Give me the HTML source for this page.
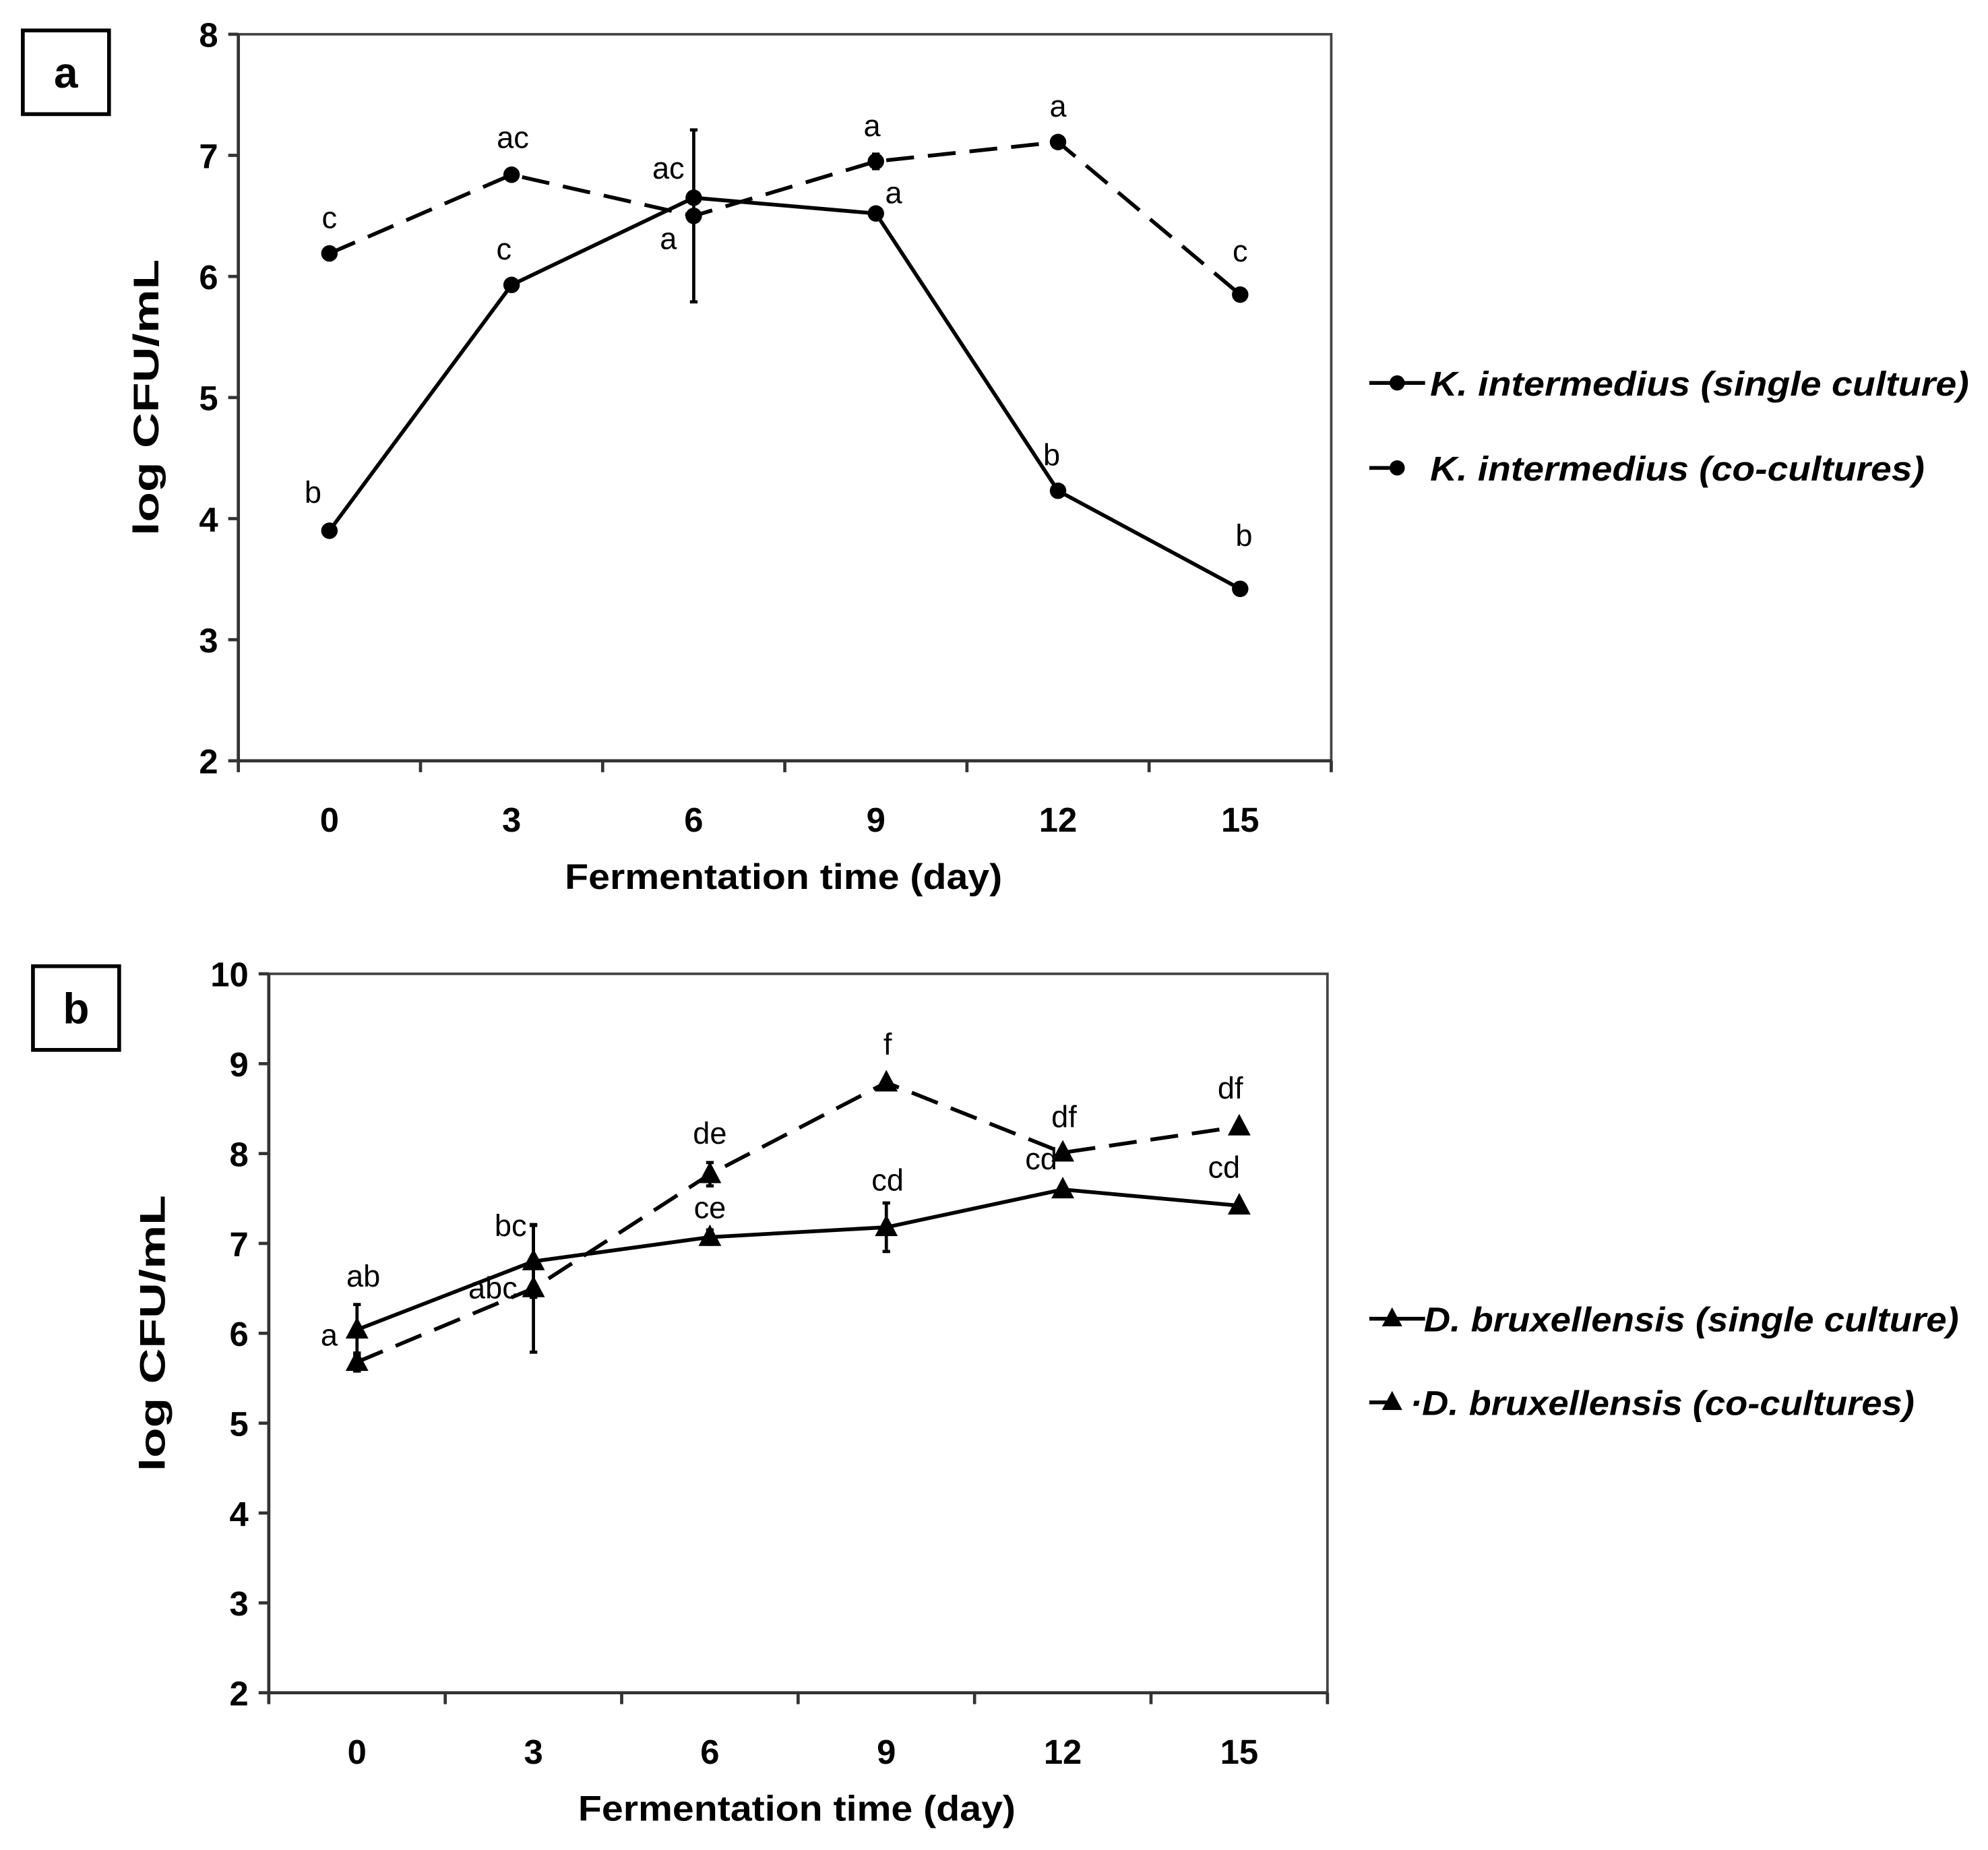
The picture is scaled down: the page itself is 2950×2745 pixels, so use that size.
<!DOCTYPE html>
<html><head><meta charset="utf-8"><style>
html,body{margin:0;padding:0;background:#fff;}
svg{display:block;}
text{font-family:"Liberation Sans",sans-serif;fill:#000;}
</style></head><body>
<svg id="fig" width="2950" height="2745" viewBox="0 0 1568 1459"></svg>
<script>
const days = ["0","3","6","9","12","15"];
const aSingle = [3.9, 5.93, 6.65, 6.52, 4.23, 3.42];
const aCo = [6.19, 6.84, 6.5, 6.95, 7.11, 5.85];
const aSingleErr = [0, 0, 0, 0, 0, 0];
const aCoErr = [0, 0, 0.71, 0.06, 0, 0];
const aSingleLbl = ["b","c","ac","a","b","b"];
const aCoLbl = ["c","ac","a","a","a","c"];
const aYTicks = [2,3,4,5,6,7,8];

const bSingle = [6.04, 6.8, 7.07, 7.18, 7.6, 7.42];
const bCo = [5.68, 6.5, 7.77, 8.79, 8.01, 8.3];
const bSingleErr = [0.28, 0.4, 0.08, 0.27, 0.03, 0];
const bCoErr = [0.1, 0.71, 0.13, 0.03, 0, 0];
const bSingleLbl = ["ab","bc","ce","cd","cd","cd"];
const bCoLbl = ["a","abc","de","f","df","df"];
const bYTicks = [2,3,4,5,6,7,8,9,10];

const NS="http://www.w3.org/2000/svg";
const svg=document.getElementById('fig');
function mk(tag,attrs,parent,txt){const e=document.createElementNS(NS,tag);for(const k in attrs)e.setAttribute(k,attrs[k]);if(txt!==undefined)e.textContent=txt;(parent||svg).appendChild(e);return e;}

function panel(cfg){
  const g=mk('g',{});
  
  
  const {L,R,T,B,ymin,ymax}=cfg;
  const n=days.length, cw=(R-L)/n;
  const xs=i=>L+cw*(i+0.5);
  const ys=v=>B-(v-ymin)/(ymax-ymin)*(B-T);
  const fr=mk('rect',{x:L,y:T,width:R-L,height:B-T,fill:'none',stroke:'#444','stroke-width':2},g);
  
  
  mk('line',{x1:L,y1:T,x2:L,y2:B,stroke:'#333','stroke-width':2.5},g);
  mk('line',{x1:L,y1:B,x2:R,y2:B,stroke:'#333','stroke-width':2.5},g);
  cfg.yticks.forEach(v=>{
    mk('line',{x1:L-8,y1:ys(v),x2:L,y2:ys(v),stroke:'#333','stroke-width':2.5},g);
    const t=mk('text',{x:L-16,y:ys(v)+10,'text-anchor':'end','font-size':27,'font-weight':'bold'},g,String(v));
    
    
  });
  for(let i=0;i<=n;i++){mk('line',{x1:L+cw*i,y1:B,x2:L+cw*i,y2:B+9,stroke:'#333','stroke-width':2.5},g);}
  days.forEach((d,i)=>{
    const t=mk('text',{x:xs(i),y:B+56,'text-anchor':'middle','font-size':27,'font-weight':'bold'},g,d);
    
    
  });
  const xt=mk('text',{x:(L+R)/2+cfg.xtOff,y:B+101,'text-anchor':'middle','font-size':28,'font-weight':'bold',textLength:345,lengthAdjust:'spacingAndGlyphs'},g,'Fermentation time (day)');
  
  
  const yt=mk('text',{x:0,y:0,'text-anchor':'middle','font-size':28,'font-weight':'bold',textLength:218,lengthAdjust:'spacingAndGlyphs',transform:`translate(${cfg.ytX},${(T+B)/2}) rotate(-90)`},g,'log CFU/mL');
  
  
  cfg.series.forEach(s=>{
    const sg=mk('g',{},g);
    
    
    s.err.forEach((e,i)=>{if(e>0){
      const x=xs(i);
      mk('line',{x1:x,y1:ys(s.vals[i]-e),x2:x,y2:ys(s.vals[i]+e),stroke:'#000','stroke-width':2.5},sg);
      mk('line',{x1:x-3,y1:ys(s.vals[i]-e),x2:x+3,y2:ys(s.vals[i]-e),stroke:'#000','stroke-width':2.5},sg);
      mk('line',{x1:x-3,y1:ys(s.vals[i]+e),x2:x+3,y2:ys(s.vals[i]+e),stroke:'#000','stroke-width':2.5},sg);
    }});
    const pts=s.vals.map((v,i)=>xs(i)+','+ys(v)).join(' ');
    const pl=mk('polyline',{points:pts,fill:'none',stroke:'#000','stroke-width':3,'stroke-dasharray':s.dash?'22,11':'none'},sg);
    
    
    s.vals.forEach((v,i)=>{
      const x=xs(i),y=ys(v);
      let m;
      if(cfg.marker==='circle'){m=mk('circle',{cx:x,cy:y,r:6.5,fill:'#000'},sg);}
      else{m=mk('polygon',{points:`${x},${y-10} ${x+9},${y+7} ${x-9},${y+7}`,fill:'#000'},sg);}
      
      
      const o=s.lblOff[i];
      const t=mk('text',{x:x+o[0],y:y+o[1],'text-anchor':'middle','font-size':24},sg,s.lbls[i]);
      
      
    });
  });
  const pb=mk('rect',{x:cfg.box[0],y:cfg.box[1],width:68,height:66,fill:'#fff',stroke:'#000','stroke-width':3},g);
  
  
  const pt=mk('text',{x:cfg.box[0]+34,y:cfg.box[1]+45,'text-anchor':'middle','font-size':34,'font-weight':'bold'},g,cfg.label);
  
  
  cfg.legend.forEach((le,k)=>{
    const lg=mk('g',{},g);
    
    
    const y=le.y;
    if(le.dash){mk('line',{x1:1080,y1:y,x2:1096,y2:y,stroke:'#000','stroke-width':3},lg);}
    else{mk('line',{x1:1080,y1:y,x2:1124,y2:y,stroke:'#000','stroke-width':3},lg);}
    if(cfg.marker==='circle')mk('circle',{cx:1102,cy:y,r:6,fill:'#000'},lg);
    else mk('polygon',{points:`${1098},${y-9} ${1106},${y+6} ${1090},${y+6}`,fill:'#000'},lg);
    mk('text',{x:le.tx,y:y+10,'font-size':27,'font-weight':'bold','font-style':'italic',textLength:le.w,lengthAdjust:'spacingAndGlyphs'},lg,le.text);
  });
}

panel({name:'panel-a-chart',label:'a',box:[18,24],L:188,R:1050,T:27,B:600,ymin:2,ymax:8,yticks:aYTicks,marker:'circle',
  ytX:125,xtOff:-1,
  series:[
    {name:'k-intermedius-single-series',vals:aSingle,err:aSingleErr,lbls:aSingleLbl,dash:false,
     lblOff:[[-13,-22],[-6,-20],[-20,-15],[14,-8],[-5,-20],[3,-34]]},
    {name:'k-intermedius-co-series',vals:aCo,err:aCoErr,lbls:aCoLbl,dash:true,
     lblOff:[[0,-20],[1,-21],[-20,26],[-3,-20],[0,-20],[0,-26]]}
  ],
  legend:[{y:302,text:'K. intermedius (single culture)',tx:1128,w:425,dash:false},{y:369,text:'K. intermedius (co-cultures)',tx:1128,w:390,dash:true}]
});
panel({name:'panel-b-chart',label:'b',box:[26,762],L:212,R:1047,T:768,B:1335,ymin:2,ymax:10,yticks:bYTicks,marker:'triangle',
  ytX:130,xtOff:-1,
  series:[
    {name:'d-bruxellensis-single-series',vals:bSingle,err:bSingleErr,lbls:bSingleLbl,dash:false,
     lblOff:[[5,-34],[-18,-20],[0,-15],[1,-29],[-17,-16],[-12,-22]]},
    {name:'d-bruxellensis-co-series',vals:bCo,err:bCoErr,lbls:bCoLbl,dash:true,
     lblOff:[[-22,-13],[-32,8],[0,-24],[1,-22],[1,-20],[-7,-22]]}
  ],
  legend:[{y:1040,text:'D. bruxellensis (single culture)',tx:1123,w:422,dash:false},{y:1106,text:'·D. bruxellensis (co-cultures)',tx:1112,w:398,dash:true}]
});
</script>
</body></html>
